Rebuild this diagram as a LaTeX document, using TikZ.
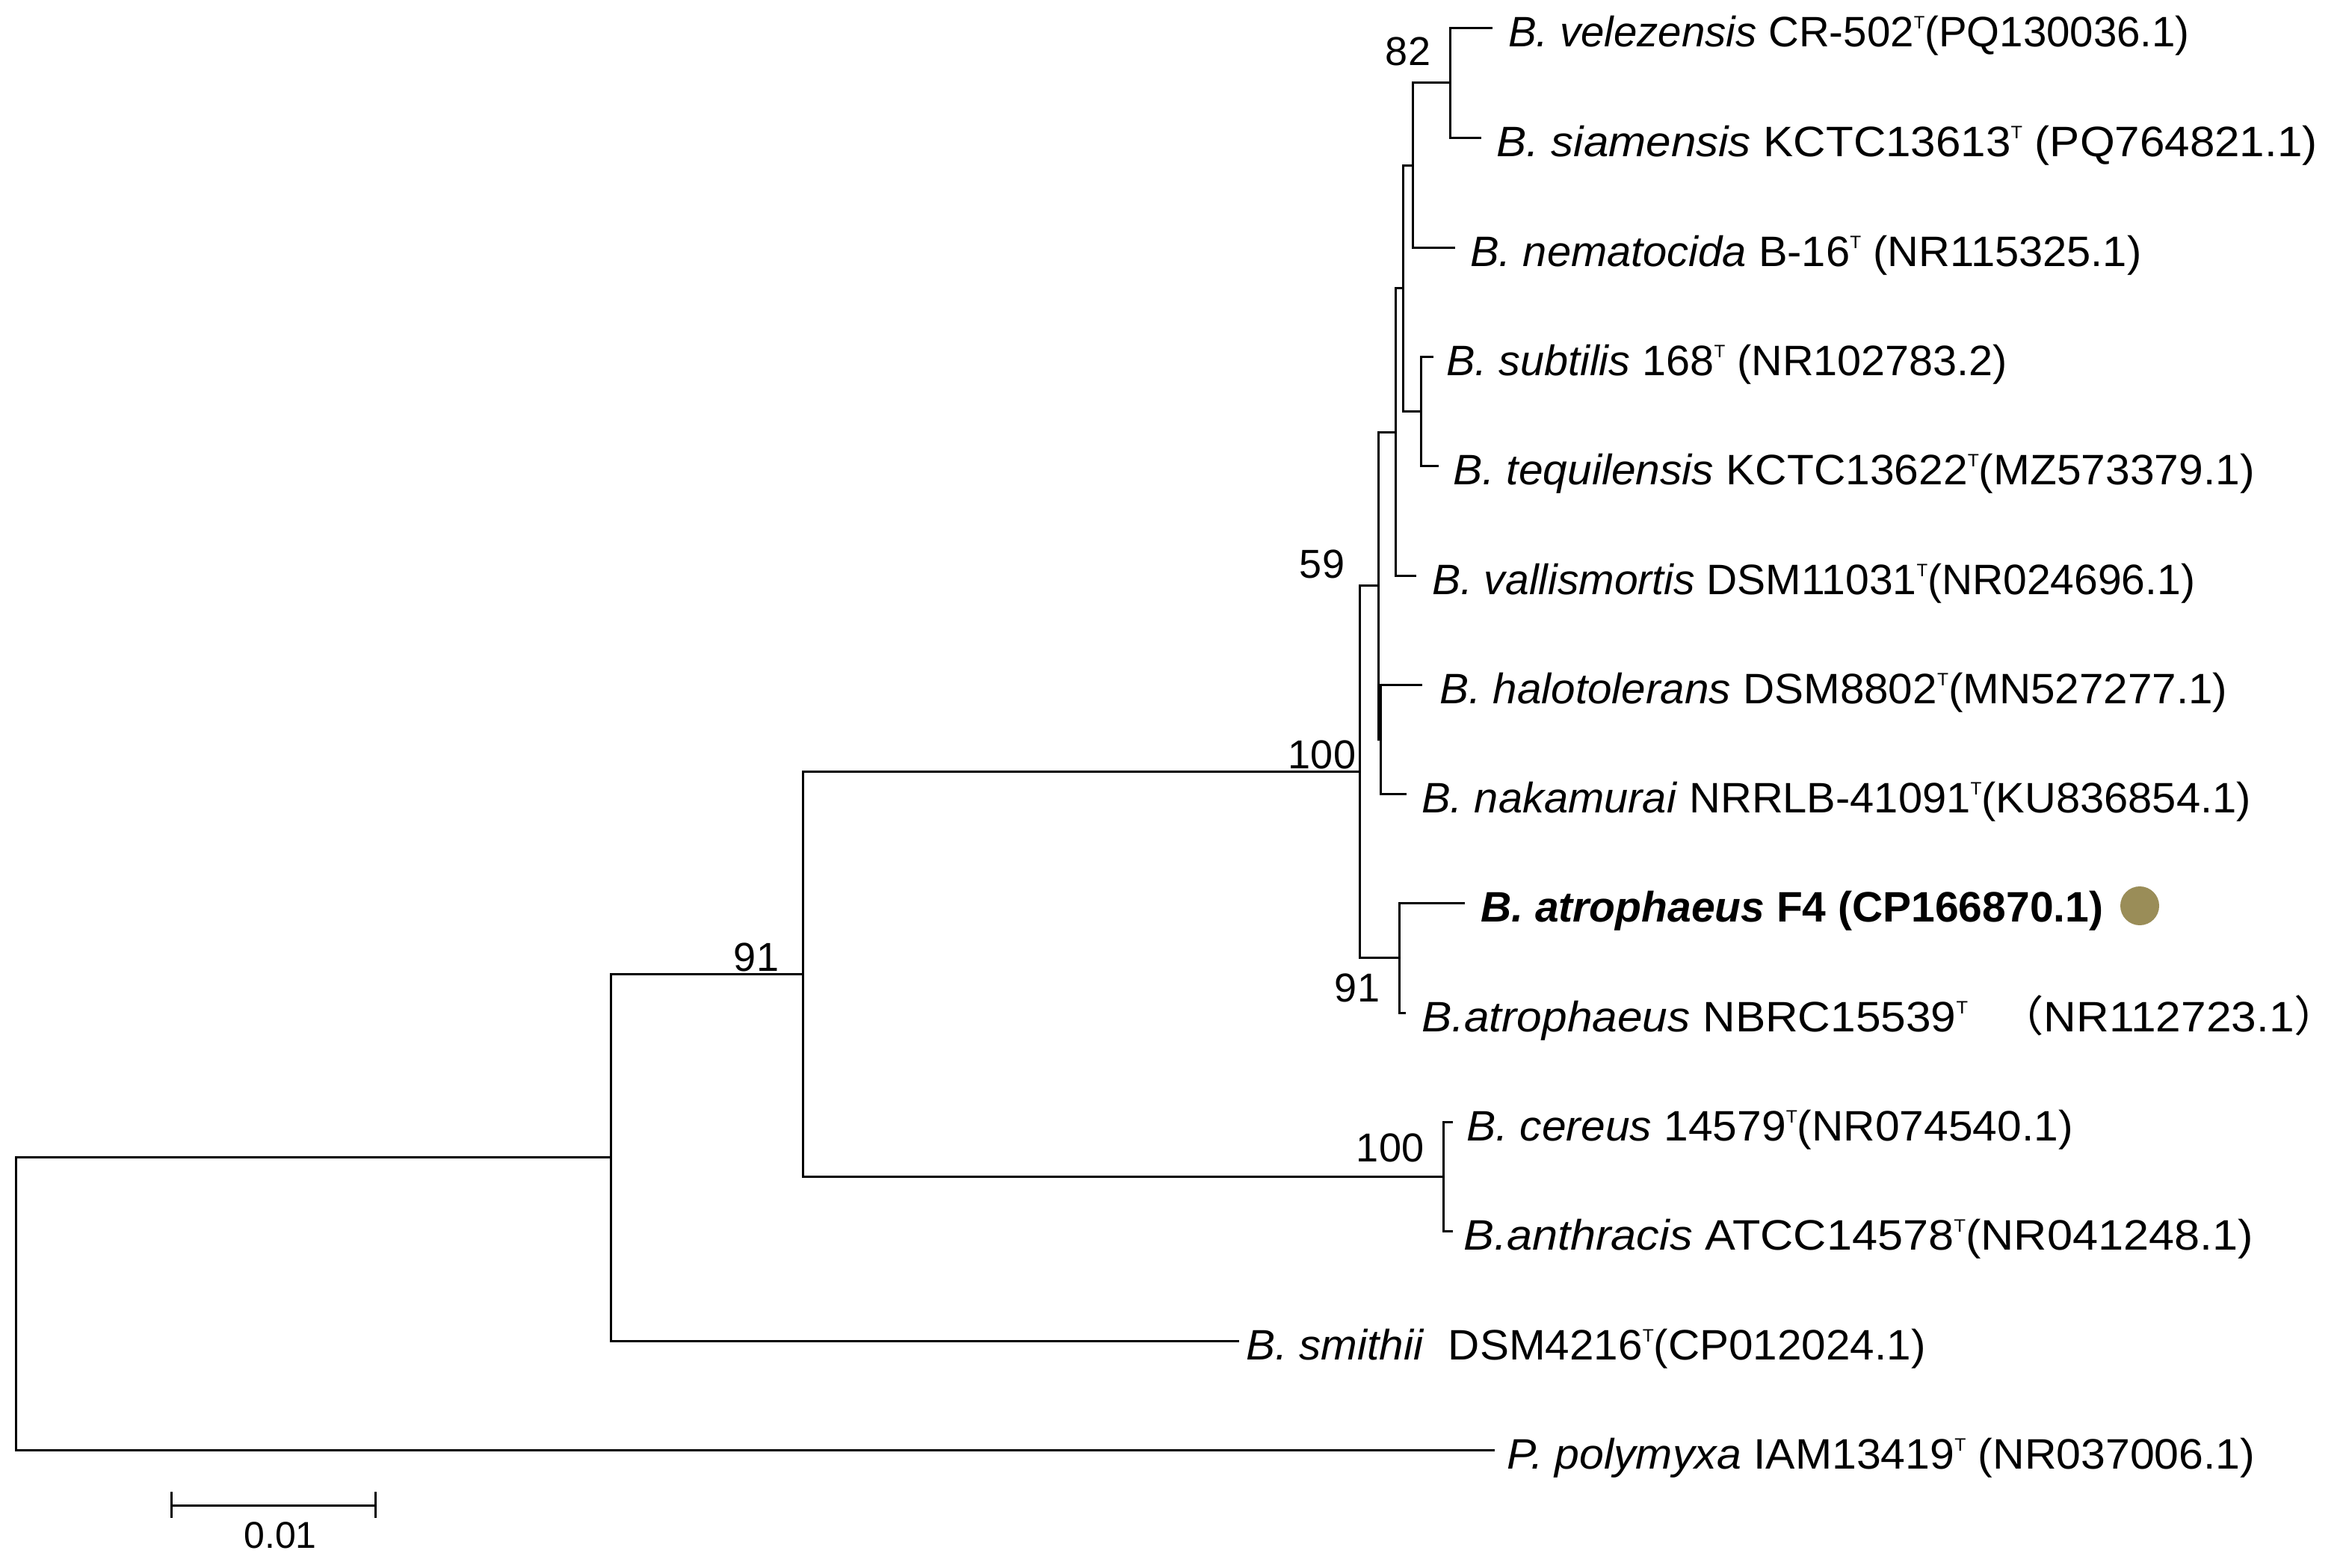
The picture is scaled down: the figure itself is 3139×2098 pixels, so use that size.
\documentclass[tikz,border=0pt]{standalone}
\usepackage{fontspec}
\setmainfont{Liberation Sans}
\newfontfamily\cjkfont{Noto Sans CJK SC}
\newcommand{\Tsup}{\raisebox{24pt}{\fontsize{24}{24}\selectfont T}}
\newcommand{\sx}[2]{\scalebox{#1}[1]{#2}}
\definecolor{dotcol}{RGB}{154,141,88}
\begin{document}
\begin{tikzpicture}[x=1pt,y=-1pt,
  branch/.style={line width=3pt, line join=miter},
  leaf/.style={anchor=base west, inner sep=0pt, font=\fontsize{57}{68}\selectfont},
  boot/.style={inner sep=0pt, font=\fontsize{54}{64}\selectfont}]
\fill[white] (0,0) rectangle (3139,2098);
\useasboundingbox (0,0) rectangle (3139,2098);
% internal nodes
\coordinate (R) at (21,1744);
\coordinate (A) at (817,1548.5);
\coordinate (B) at (1074,1303);
\coordinate (C) at (1819,1032.5);
\coordinate (D) at (1844,783.5);
\coordinate (E) at (1867,578);
\coordinate (G) at (1877,385.5);
\coordinate (H) at (1890,221);
\coordinate (J) at (1940,111);
\coordinate (I) at (1901,550);
\coordinate (F) at (1847,989);
\coordinate (L) at (1872,1281.5);
\coordinate (K) at (1931,1574);
% leaf tips
\coordinate (t1) at (1997,38);
\coordinate (t2) at (1982,184);
\coordinate (t3) at (1947,331);
\coordinate (t4) at (1918,477);
\coordinate (t5) at (1925,623);
\coordinate (t6) at (1895,770);
\coordinate (t7) at (1903,916);
\coordinate (t8) at (1882,1062);
\coordinate (t9) at (1960,1208);
\coordinate (t10) at (1881,1355);
\coordinate (t11) at (1944,1501);
\coordinate (t12) at (1944,1647);
\coordinate (t13) at (1658,1794);
\coordinate (t14) at (2000,1940);
% branches
\draw[branch] (R) |- (A);
\draw[branch] (R) |- (t14);
\draw[branch] (A) |- (B);
\draw[branch] (A) |- (t13);
\draw[branch] (B) |- (C);
\draw[branch] (B) |- (K);
\draw[branch] (K) |- (t11);
\draw[branch] (K) |- (t12);
\draw[branch] (C) |- (D);
\draw[branch] (C) |- (L);
\draw[branch] (L) |- (t9);
\draw[branch] (L) |- (t10);
\draw[branch] (D) |- (E);
\draw[branch] (D) |- (F);
\draw[branch] (F) |- (t7);
\draw[branch] (F) |- (t8);
\draw[branch] (E) |- (G);
\draw[branch] (E) |- (t6);
\draw[branch] (G) |- (H);
\draw[branch] (G) |- (I);
\draw[branch] (I) |- (t4);
\draw[branch] (I) |- (t5);
\draw[branch] (H) |- (J);
\draw[branch] (H) |- (t3);
\draw[branch] (J) |- (t1);
\draw[branch] (J) |- (t2);
% leaf labels
\node[leaf] (n1) at (2018,63) {\sx{0.99}{\textit{B. velezensis} CR-502\Tsup(PQ130036.1)}};
\node[leaf] (n2) at (2002,209) {\sx{1.055}{\textit{B. siamensis} KCTC13613\Tsup\ (PQ764821.1)}};
\node[leaf] (n3) at (1967,356) {\sx{1.015}{\textit{B. nematocida} B-16\Tsup\ (NR115325.1)}};
\node[leaf] (n4) at (1935,502) {\sx{1.01}{\textit{B. subtilis} 168\Tsup\ (NR102783.2)}};
\node[leaf] (n5) at (1944,648) {\sx{1.03}{\textit{B. tequilensis} KCTC13622\Tsup(MZ573379.1)}};
\node[leaf] (n6) at (1916,795) {\textit{B. vallismortis} DSM11031\Tsup(NR024696.1)};
\node[leaf] (n7) at (1926,941) {\sx{1.025}{\textit{B. halotolerans} DSM8802\Tsup(MN527277.1)}};
\node[leaf] (n8) at (1902,1087) {\sx{1.015}{\textit{B. nakamurai} NRRLB-41091\Tsup(KU836854.1)}};
\node[leaf] (n9) at (1981,1233) {\bfseries\textit{B. atrophaeus} F4 (CP166870.1)};
\node[leaf] (n10) at (1902,1380) {\sx{1.06}{\textit{B.atrophaeus} NBRC15539\Tsup\hspace{39pt}{\cjkfont （}NR112723.1{\cjkfont ）}}};
\node[leaf] (n11) at (1962,1526) {\sx{1.03}{\textit{B. cereus} 14579\Tsup(NR074540.1)}};
\node[leaf] (n12) at (1958,1672) {\sx{1.075}{\textit{B.anthracis} ATCC14578\Tsup(NR041248.1)}};
\node[leaf] (n13) at (1667,1819) {\sx{1.025}{\textit{B. smithii}\ \ DSM4216\Tsup(CP012024.1)}};
\node[leaf] (n14) at (2016,1965) {\sx{1.035}{\textit{P. polymyxa} IAM13419\Tsup\ (NR037006.1)}};
\fill[dotcol] (2863,1212) circle[radius=26];
% bootstrap values
\node[boot] (b82) at (1884,69) {82};
\node[boot] (b59) at (1769,755) {59};
\node[boot] (b100a) at (1769,1010) {100};
\node[boot] (b91a) at (1012,1281) {91};
\node[boot] (b91b) at (1816,1322) {91};
\node[boot] (b100b) at (1860,1536) {100};
% scale bar
\coordinate (s1) at (229.5,2014);
\coordinate (s2) at (502,2014);
\draw[branch] (s1) -- (s2);
\draw[branch] ([yshift=-17pt]s1) -- ([yshift=18pt]s1);
\draw[branch] ([yshift=-17pt]s2) -- ([yshift=18pt]s2);
\node[boot, font=\fontsize{50}{60}\selectfont] (sl) at (375,2054) {0.01};
\end{tikzpicture}
\end{document}
